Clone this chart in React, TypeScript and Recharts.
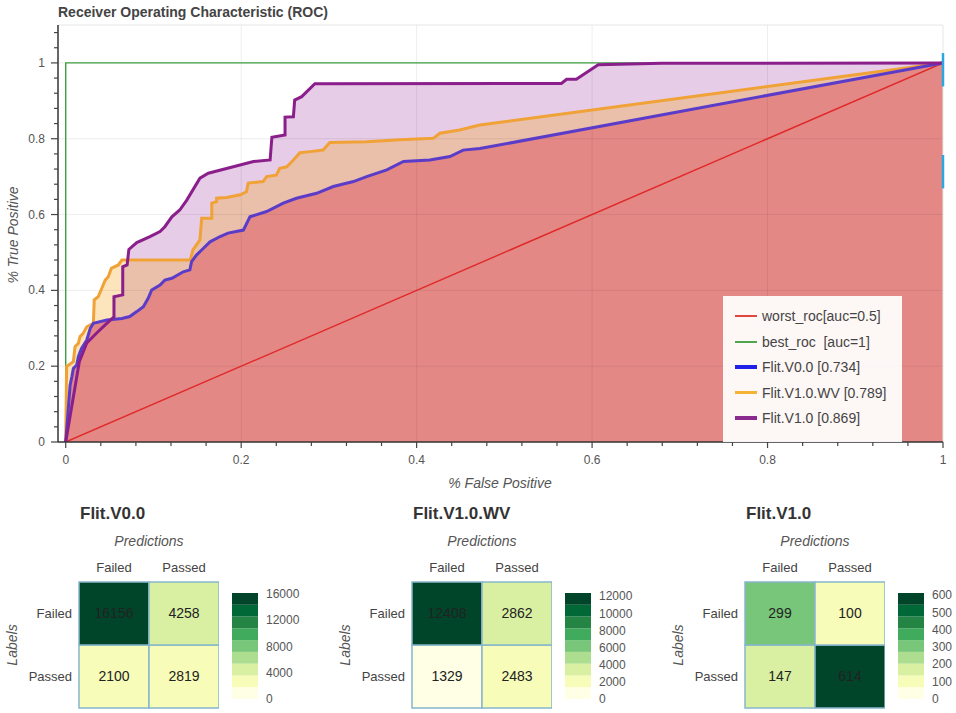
import React from 'react';
import {
  ComposedChart, Line, Area, XAxis, YAxis, ReferenceLine,
  BarChart, Bar, Cell, LabelList,
} from 'recharts';

const FONT = '"Liberation Sans", Arial, Helvetica, sans-serif';

// ---------- ROC data ----------
const worstRoc: [number, number][] = [[0, 0], [1, 1]];
const bestRoc: [number, number][] = [[0, 0], [0, 1], [1, 1]];

const rocV00: [number, number][] = [
  [0, 0], [0.005, 0.15], [0.007, 0.172], [0.0087, 0.194], [0.0125, 0.203], [0.0144, 0.225],
  [0.018, 0.247], [0.024, 0.269], [0.028, 0.3], [0.0315, 0.313], [0.047, 0.322], [0.064, 0.326],
  [0.073, 0.331], [0.081, 0.344], [0.0885, 0.357], [0.094, 0.379], [0.098, 0.401], [0.1075, 0.414],
  [0.113, 0.427], [0.121, 0.432], [0.134, 0.449], [0.1415, 0.454], [0.1435, 0.476], [0.149, 0.493],
  [0.157, 0.511], [0.1645, 0.528], [0.176, 0.542], [0.185, 0.551], [0.2025, 0.559], [0.21, 0.594],
  [0.229, 0.608], [0.248, 0.63], [0.263, 0.643], [0.286, 0.656], [0.305, 0.674], [0.328, 0.687],
  [0.343, 0.7], [0.366, 0.718], [0.385, 0.74], [0.415, 0.744], [0.438, 0.753], [0.453, 0.77],
  [0.472, 0.774], [1, 1],
];

const rocV10WV: [number, number][] = [
  [0, 0], [0.001, 0.199], [0.0087, 0.212], [0.0106, 0.2515], [0.0144, 0.26], [0.0163, 0.278],
  [0.02, 0.287], [0.024, 0.304], [0.0315, 0.313], [0.0325, 0.375], [0.037, 0.383], [0.041, 0.405],
  [0.045, 0.427], [0.0485, 0.436], [0.052, 0.458], [0.06, 0.467], [0.064, 0.48], [0.142, 0.48],
  [0.145, 0.507], [0.153, 0.533], [0.155, 0.59], [0.1665, 0.59], [0.1665, 0.63], [0.172, 0.634],
  [0.172, 0.643], [0.1835, 0.645], [0.199, 0.652], [0.206, 0.66], [0.208, 0.683], [0.225, 0.687],
  [0.229, 0.7], [0.24, 0.704], [0.244, 0.722], [0.252, 0.726], [0.2595, 0.744], [0.267, 0.763],
  [0.2785, 0.766], [0.2935, 0.77], [0.301, 0.79], [0.343, 0.792], [0.381, 0.797], [0.419, 0.801],
  [0.4265, 0.8145], [0.449, 0.823], [0.472, 0.836], [1, 1],
];

const rocV10: [number, number][] = [
  [0, 0], [0.0155, 0.212], [0.024, 0.261], [0.035, 0.287], [0.045, 0.309], [0.055, 0.33],
  [0.055, 0.383], [0.065, 0.388], [0.065, 0.462], [0.07, 0.467], [0.072, 0.508], [0.081, 0.526],
  [0.096, 0.542], [0.1075, 0.555], [0.113, 0.568], [0.121, 0.594], [0.13, 0.612], [0.138, 0.638],
  [0.153, 0.696], [0.1625, 0.709], [0.191, 0.726], [0.214, 0.74], [0.233, 0.744], [0.235, 0.804],
  [0.25, 0.81], [0.25, 0.857], [0.2595, 0.858], [0.261, 0.902], [0.269, 0.911], [0.284, 0.945],
  [0.565, 0.946], [0.571, 0.957], [0.582, 0.957], [0.607, 0.995], [0.679, 0.999], [1, 1],
];

const xMajorTicks = [0, 0.2, 0.4, 0.6, 0.8, 1];
const yMajorTicks = [0, 0.2, 0.4, 0.6, 0.8, 1];

// ---------- Confusion matrices ----------
const rowLabels = ['Failed', 'Passed'];
const colLabels = ['Failed', 'Passed'];
const cmTitles = ['Flit.V0.0', 'Flit.V1.0.WV', 'Flit.V1.0'];
const cmV00 = [[16156, 4258], [2100, 2819]];
const cmV10WV = [[12408, 2862], [1329, 2483]];
const cmV10 = [[299, 100], [147, 614]];
const cbTicksV00 = [0, 4000, 8000, 12000, 16000];
const cbTicksV10WV = [0, 2000, 4000, 6000, 8000, 10000, 12000];
const cbTicksV10 = [0, 100, 200, 300, 400, 500, 600];

const YLGN9 = ['#ffffe5', '#f7fcb9', '#d9f0a3', '#addd8e', '#78c679', '#41ab5d', '#238443', '#006837', '#004529'];

const toXY = (arr: [number, number][]) => arr.map(([x, y]) => ({ x, y }));

const makeTicks = (max: number) => {
  const out: number[] = [];
  for (let i = 0; i * 0.04 <= max + 1e-9; i++) out.push(Math.round(i * 0.04 * 100) / 100);
  return out;
};

const fmt = (v: number) => (v === 0 ? '0' : v === 1 ? '1' : v.toFixed(1));

const XTick = (props: any) => {
  const { x, y, payload } = props;
  const v = payload.value;
  const major = xMajorTicks.some((m) => Math.abs(m - v) < 1e-6);
  return (
    <g>
      <line x1={x} x2={x} y1={y} y2={y + (major ? 6 : 4)} stroke="#444" strokeWidth={1.2} />
      {major && (
        <text x={x} y={y + 22} textAnchor="middle" fontSize={12} fill="#555" fontFamily={FONT}>
          {fmt(v)}
        </text>
      )}
    </g>
  );
};

const YTick = (props: any) => {
  const { x, y, payload } = props;
  const v = payload.value;
  const major = yMajorTicks.some((m) => Math.abs(m - v) < 1e-6);
  return (
    <g>
      <line x1={x - (major ? 7 : 4)} x2={x} y1={y} y2={y} stroke="#444" strokeWidth={1.2} />
      {major && (
        <text x={x - 13} y={y} dy={4} textAnchor="end" fontSize={12} fill="#555" fontFamily={FONT}>
          {fmt(v)}
        </text>
      )}
    </g>
  );
};

const legendItems = [
  { label: 'worst_roc[auc=0.5]', color: '#e0473f', w: 2 },
  { label: 'best_roc  [auc=1]', color: '#4fa64f', w: 2 },
  { label: 'Flit.V0.0 [0.734]', color: '#2020e8', w: 3.5 },
  { label: 'Flit.V1.0.WV [0.789]', color: '#f5b335', w: 3.5 },
  { label: 'Flit.V1.0 [0.869]', color: '#8a2a8e', w: 3.5 },
];

const RocChart = () => (
  <div style={{ position: 'absolute', left: 0, top: 0 }}>
    <ComposedChart width={956} height={495} margin={{ top: 25, right: 13, bottom: 0, left: 0 }}>
      <XAxis
        type="number"
        dataKey="x"
        domain={[-0.0088, 1]}
        allowDataOverflow
        ticks={makeTicks(1)}
        interval={0}
        tick={<XTick />}
        tickSize={0}
        tickMargin={0}
        tickLine={false}
        axisLine={{ stroke: '#333', strokeWidth: 1.5 }}
        height={53}
      />
      <YAxis
        type="number"
        dataKey="y"
        domain={[0, 1.1]}
        allowDataOverflow
        ticks={makeTicks(1.08)}
        interval={0}
        tick={<YTick />}
        tickSize={0}
        tickMargin={0}
        tickLine={false}
        axisLine={{ stroke: '#333', strokeWidth: 1.5 }}
        width={58}
      />
      <Area data={toXY(rocV10)} dataKey="y" type="linear" stroke="none" fill="#800080" fillOpacity={0.2} isAnimationActive={false} dot={false} activeDot={false} />
      <Area data={toXY(rocV10WV)} dataKey="y" type="linear" stroke="none" fill="#f5a623" fillOpacity={0.3} isAnimationActive={false} dot={false} activeDot={false} />
      <Area data={toXY(rocV00)} dataKey="y" type="linear" stroke="none" fill="#e48886" fillOpacity={1} isAnimationActive={false} dot={false} activeDot={false} />
      {[0.2, 0.4, 0.6, 0.8].map((v) => (
        <ReferenceLine key={'gx' + v} x={v} stroke="rgba(0,0,0,0.07)" strokeWidth={1} />
      ))}
      {[0.2, 0.4, 0.6, 0.8, 1].map((v) => (
        <ReferenceLine key={'gy' + v} y={v} stroke="rgba(0,0,0,0.07)" strokeWidth={1} />
      ))}
      <ReferenceLine y={1.1} stroke="#e6e6e6" strokeWidth={1} />
      <ReferenceLine x={1} stroke="#e6e6e6" strokeWidth={1} />
      <Line data={toXY(worstRoc)} dataKey="y" type="linear" stroke="#e02a2a" strokeWidth={1.4} dot={false} activeDot={false} isAnimationActive={false} />
      <Line data={toXY(bestRoc)} dataKey="y" type="linear" stroke="#3e9e3e" strokeWidth={1.4} dot={false} activeDot={false} isAnimationActive={false} />
      <Line data={toXY(rocV10WV)} dataKey="y" type="linear" stroke="#f0a236" strokeWidth={3} dot={false} activeDot={false} isAnimationActive={false} />
      <Line data={toXY(rocV00)} dataKey="y" type="linear" stroke="#5a3cc8" strokeWidth={3} dot={false} activeDot={false} isAnimationActive={false} />
      <Line data={toXY(rocV10)} dataKey="y" type="linear" stroke="#8a1f8c" strokeWidth={3} dot={false} activeDot={false} isAnimationActive={false} />
      <ReferenceLine segment={[{ x: 1, y: 0.938 }, { x: 1, y: 1.026 }]} stroke="#2aa7df" strokeWidth={2.5} />
      <ReferenceLine segment={[{ x: 1, y: 0.669 }, { x: 1, y: 0.757 }]} stroke="#2aa7df" strokeWidth={2.5} />
    </ComposedChart>
    <div
      style={{
        position: 'absolute', left: 723, top: 296, width: 179, height: 146,
        background: 'rgba(255,255,255,0.93)', fontFamily: FONT, fontSize: 14, color: '#444',
      }}
    >
      {legendItems.map((it, i) => {
        const cy = 20 + i * 25.5;
        return (
          <div key={it.label} style={{ position: 'absolute', left: 0, top: cy - 9, height: 18, width: 179 }}>
            <div style={{ position: 'absolute', left: 12, top: 9 - it.w / 2, width: 22, height: it.w, background: it.color }} />
            <div style={{ position: 'absolute', left: 39, top: 0, lineHeight: '18px', whiteSpace: 'pre' }}>{it.label}</div>
          </div>
        );
      })}
    </div>
  </div>
);

const colorFor = (v: number, max: number) => YLGN9[Math.min(8, Math.floor((v / max) * 9))];

const ColTick = (props: any) => {
  const { x, y, payload } = props;
  return (
    <text x={x} y={y - 10} textAnchor="middle" fontSize={13} fill="#444" fontFamily={FONT}>
      {payload.value}
    </text>
  );
};

const RowTick = (props: any) => {
  const { x, y, payload } = props;
  const label = payload.value > 1 ? rowLabels[0] : rowLabels[1];
  return (
    <text x={x - 7} y={y} dy={4.5} textAnchor="end" fontSize={13} fill="#444" fontFamily={FONT}>
      {label}
    </text>
  );
};

const CbTick = (props: any) => {
  const { x, y, payload } = props;
  return (
    <text x={x + 8} y={y} dy={4} textAnchor="start" fontSize={12} fill="#555" fontFamily={FONT}>
      {payload.value}
    </text>
  );
};

const Heatmap = ({ left, counts }: { left: number; counts: number[][] }) => {
  const max = Math.max(...counts.flat());
  const data = colLabels.map((c, j) => ({
    col: c,
    top: 1,
    bottom: 1,
    topVal: counts[0][j],
    bottomVal: counts[1][j],
  }));
  return (
    <div style={{ position: 'absolute', left: left - 79, top: 495 }}>
      <BarChart width={219} height={218} data={data} margin={{ top: 57, right: 0, bottom: 5, left: 0 }} barCategoryGap={0} barGap={0}>
        <XAxis dataKey="col" orientation="top" type="category" height={30} axisLine={false} tickLine={false} tickSize={0} tickMargin={0} tick={<ColTick />} />
        <YAxis type="number" domain={[0, 2]} ticks={[0.5, 1.5]} width={79} axisLine={false} tickLine={false} tickSize={0} tickMargin={0} tick={<RowTick />} />
        <Bar dataKey="bottom" stackId="m" stroke="#86b6cc" strokeWidth={1.5} isAnimationActive={false}>
          {data.map((d, i) => (
            <Cell key={'b' + i} fill={colorFor(d.bottomVal, max)} />
          ))}
          <LabelList dataKey="bottomVal" position="center" fill="#222" fontSize={14} fontFamily={FONT} />
        </Bar>
        <Bar dataKey="top" stackId="m" stroke="#86b6cc" strokeWidth={1.5} isAnimationActive={false}>
          {data.map((d, i) => (
            <Cell key={'t' + i} fill={colorFor(d.topVal, max)} />
          ))}
          <LabelList dataKey="topVal" position="center" fill="#222" fontSize={14} fontFamily={FONT} />
        </Bar>
      </BarChart>
    </div>
  );
};

const ColorBar = ({ left, max, ticks, axisWidth }: { left: number; max: number; ticks: number[]; axisWidth: number }) => {
  const row: any = { k: 'cb' };
  YLGN9.forEach((_, i) => {
    row['s' + i] = max / 9;
  });
  return (
    <div style={{ position: 'absolute', left, top: 495 }}>
      <BarChart width={26 + axisWidth} height={218} data={[row]} margin={{ top: 98, right: 0, bottom: 14, left: 0 }} barCategoryGap={0} barGap={0}>
        <XAxis dataKey="k" hide />
        <YAxis orientation="right" type="number" domain={[0, max]} ticks={ticks} interval={0} width={axisWidth} axisLine={false} tickLine={false} tickSize={0} tickMargin={0} tick={<CbTick />} />
        {YLGN9.map((c, i) => (
          <Bar key={c} dataKey={'s' + i} stackId="c" fill={c} isAnimationActive={false} />
        ))}
      </BarChart>
    </div>
  );
};

const matrixLefts = [79, 412, 745];
const colorbarLefts = [232, 565, 898];
const allCounts = [cmV00, cmV10WV, cmV10];
const allCbTicks = [cbTicksV00, cbTicksV10WV, cbTicksV10];

export default function App() {
  return (
    <div style={{ position: 'relative', width: 956, height: 713, overflow: 'hidden', background: '#fff', fontFamily: FONT }}>
      <style>{'body{margin:0}'}</style>
      <RocChart />
      {allCounts.map((c, i) => (
        <Heatmap key={'h' + i} left={matrixLefts[i]} counts={c} />
      ))}
      {allCounts.map((c, i) => (
        <ColorBar key={'c' + i} left={colorbarLefts[i]} max={Math.max(...c.flat())} ticks={allCbTicks[i]} axisWidth={i === 2 ? 30 : 50} />
      ))}
      <svg width={956} height={713} style={{ position: 'absolute', left: 0, top: 0, pointerEvents: 'none' }} fontFamily={FONT}>
        <text x={58} y={17} fontSize={14} fontWeight="bold" fill="#444">Receiver Operating Characteristic (ROC)</text>
        <text x={13} y={235} fontSize={14} fontStyle="italic" fill="#555" textAnchor="middle" dominantBaseline="central" transform="rotate(-90 13 235)">% True Positive</text>
        <text x={500} y={483} fontSize={14} fontStyle="italic" fill="#555" textAnchor="middle" dominantBaseline="central">% False Positive</text>
        {matrixLefts.map((l, i) => (
          <g key={'t' + i}>
            <text x={l + 1} y={519} fontSize={17} fontWeight="bold" fill="#333">{cmTitles[i]}</text>
            <text x={l + 70} y={541} fontSize={14} fontStyle="italic" fill="#555" textAnchor="middle" dominantBaseline="central">Predictions</text>
            <text x={l - 67} y={645} fontSize={14} fontStyle="italic" fill="#555" textAnchor="middle" dominantBaseline="central" transform={`rotate(-90 ${l - 67} 645)`}>Labels</text>
          </g>
        ))}
      </svg>
    </div>
  );
}
